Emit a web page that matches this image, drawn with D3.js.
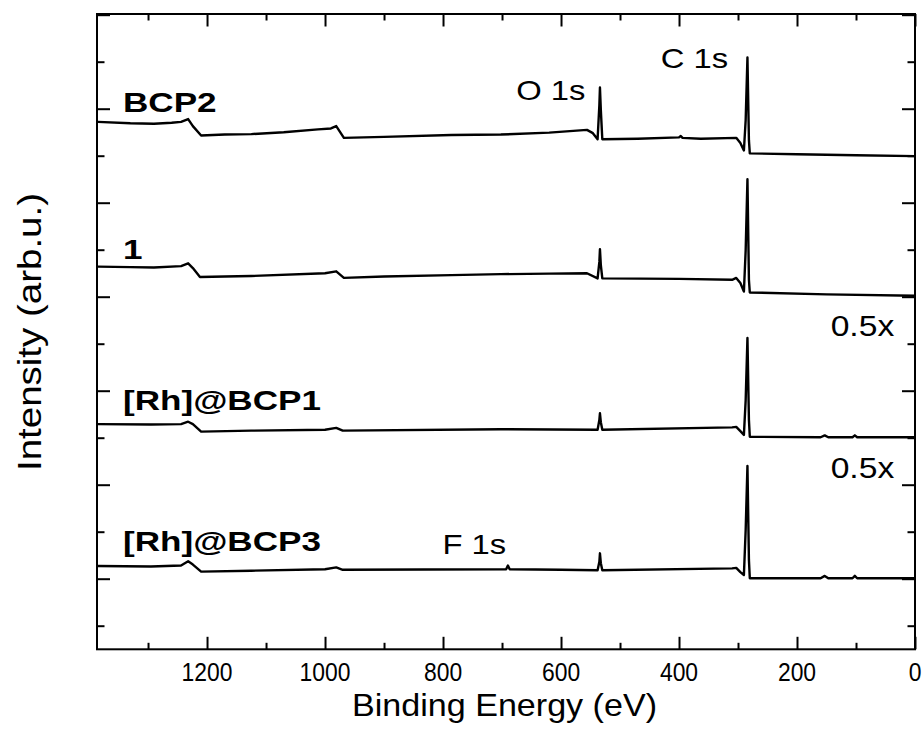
<!DOCTYPE html>
<html><head><meta charset="utf-8">
<script src="https://cdn.jsdelivr.net/npm/d3@7"></script>
<style>body{margin:0;background:#fff}</style>
</head><body>
<svg id="c" width="923" height="743"></svg>
<script>
// ---- data (binding energy in eV, intensity in arb. u. incl. vertical offset) ----
const seriesNames = ["BCP2", "1", "[Rh]@BCP1", "[Rh]@BCP3"];

const energyBCP2 = [1385,1330,1290,1260,1244,1232,1224,1210,1170,1125,1070,1012,990,981,968,900,786,702,620,556,546,538,535,534,532.5,530,470,400,397,394,363,303,296,290,287,284,281.5,280,200,100,0];
const intensityBCP2 = [10.72,10.69,10.68,10.70,10.72,10.78,10.63,10.43,10.45,10.46,10.50,10.56,10.58,10.63,10.38,10.40,10.44,10.45,10.49,10.55,10.48,10.35,11.08,11.45,10.97,10.35,10.36,10.39,10.42,10.38,10.36,10.38,10.27,10.11,10.76,12.09,10.33,10.05,10.03,10.01,9.99];

const energy1 = [1385,1330,1290,1244,1232,1224,1212,1170,1125,1000,981,968,900,786,702,620,556,538,535,534,532.5,530,400,310,303,296,290,287,284,281.5,280,150,0];
const intensity1 = [7.64,7.63,7.62,7.65,7.71,7.61,7.42,7.43,7.44,7.50,7.54,7.40,7.43,7.46,7.48,7.49,7.50,7.39,7.74,8.01,7.67,7.39,7.38,7.36,7.40,7.29,7.11,7.99,9.50,7.36,7.09,7.05,7.02];

const energyRhBCP1 = [1385,1295,1244,1232,1224,1210,1125,1000,981,970,702,538,535,534,532.5,530,310,303,296,290,287,284,281.5,280,160,153,147,106,102,98,0];
const intensityRhBCP1 = [4.29,4.28,4.29,4.34,4.29,4.13,4.15,4.17,4.21,4.15,4.18,4.17,4.38,4.52,4.33,4.17,4.22,4.23,4.14,4.06,4.80,6.12,4.38,4.02,4.01,4.05,4.01,4.01,4.05,4.01,4.01];

const energyRhBCP3 = [1385,1295,1244,1232,1224,1210,1125,1000,981,970,693,690,687,600,538,535,534,532.5,530,310,303,296,290,287,284,281.5,280,160,153,147,106,102,98,0];
const intensityRhBCP3 = [1.27,1.26,1.28,1.37,1.30,1.15,1.17,1.20,1.24,1.19,1.20,1.28,1.20,1.19,1.18,1.36,1.54,1.33,1.18,1.22,1.23,1.14,1.08,2.04,3.40,1.40,1.01,1.01,1.06,1.01,1.01,1.06,1.01,1.01];

const xMajorTicks = [1200, 1000, 800, 600, 400, 200, 0];
const xMinorTicks = [1300, 1100, 900, 700, 500, 300, 100];
const yMajorTicks = [1, 3, 5, 7, 9, 11, 13];
const yMinorTicks = [0, 2, 4, 6, 8, 10, 12];

const peakLabels = ["O 1s", "C 1s", "F 1s"];
const peakLabelEnergy = [676, 431, 801];
const peakLabelLevel = [11.18, 11.86, 1.52];
const scaleLabels = ["0.5x", "0.5x"];
const scaleLabelEnergy = [143, 143];
const scaleLabelLevel = [6.17, 3.15];
const seriesLabelLevel = [10.93, 7.80, 4.59, 1.58];

// ---- drawing ----
const svg = d3.select("#c");
const L = 97, R = 915, T = 14, B = 649.3;
const x = d3.scaleLinear().domain([1386.5, 0]).range([L, R]);
const y = d3.scaleLinear().domain([-0.502, 13.015]).range([B, T]);
const font = "'Liberation Sans', Arial, sans-serif";

function axis(gen, tx, ty, vals, len) {
  const g = svg.append("g").attr("transform", `translate(${tx},${ty})`)
    .call(gen.tickValues(vals).tickSize(-len).tickFormat(""));
  g.select(".domain").remove();
  g.selectAll(".tick line").attr("stroke", "#000").attr("stroke-width", 2);
  return g;
}
axis(d3.axisBottom(x), 0, B, xMajorTicks, 12.5);
axis(d3.axisBottom(x), 0, B, xMinorTicks, 6.5);
axis(d3.axisTop(x), 0, T, xMajorTicks, 12.5);
axis(d3.axisTop(x), 0, T, xMinorTicks, 6.5);
axis(d3.axisLeft(y), L, 0, yMajorTicks, 13);
axis(d3.axisLeft(y), L, 0, yMinorTicks, 7.5);
axis(d3.axisRight(y), R, 0, yMajorTicks, 13);
axis(d3.axisRight(y), R, 0, yMinorTicks, 7.5);

svg.append("rect").attr("x", L).attr("y", T).attr("width", R - L).attr("height", B - T)
  .attr("fill", "none").attr("stroke", "#000").attr("stroke-width", 2);

const line = d3.line().x(d => x(d[0])).y(d => y(d[1]));
const series = [
  [energyBCP2, intensityBCP2],
  [energy1, intensity1],
  [energyRhBCP1, intensityRhBCP1],
  [energyRhBCP3, intensityRhBCP3]
];
series.forEach(([e, v]) => {
  svg.append("path").datum(e.map((d, i) => [d, v[i]]))
    .attr("d", line).attr("fill", "none").attr("stroke", "#000")
    .attr("stroke-width", 2.4).attr("stroke-linejoin", "round");
});

function label(txt, px, py, size, weight, sx, anchor) {
  svg.append("text").text(txt)
    .attr("transform", `translate(${px},${py}) scale(${sx},1)`)
    .attr("font-family", font).attr("font-size", size).attr("font-weight", weight)
    .attr("text-anchor", anchor || "start").attr("fill", "#000");
}

// tick labels
xMajorTicks.forEach(v => label(String(v), x(v), 681, 26, "normal", 0.88, "middle"));

// series labels
seriesNames.forEach((s, i) => label(s, 123, y(seriesLabelLevel[i]), 27, "bold", 1.3));

// peak labels
peakLabels.forEach((s, i) => label(s, x(peakLabelEnergy[i]), y(peakLabelLevel[i]), 28, "normal", 1.17));
scaleLabels.forEach((s, i) => label(s, x(scaleLabelEnergy[i]), y(scaleLabelLevel[i]), 29, "normal", 1.16));

// axis titles
svg.append("text").text("Binding Energy (eV)")
  .attr("x", 352).attr("y", 716).attr("textLength", 305).attr("lengthAdjust", "spacingAndGlyphs")
  .attr("font-family", font).attr("font-size", 32);
svg.append("text").text("Intensity (arb.u.)")
  .attr("transform", "translate(41,471) rotate(-90)")
  .attr("textLength", 278).attr("lengthAdjust", "spacingAndGlyphs")
  .attr("font-family", font).attr("font-size", 33);
</script>
</body></html>
